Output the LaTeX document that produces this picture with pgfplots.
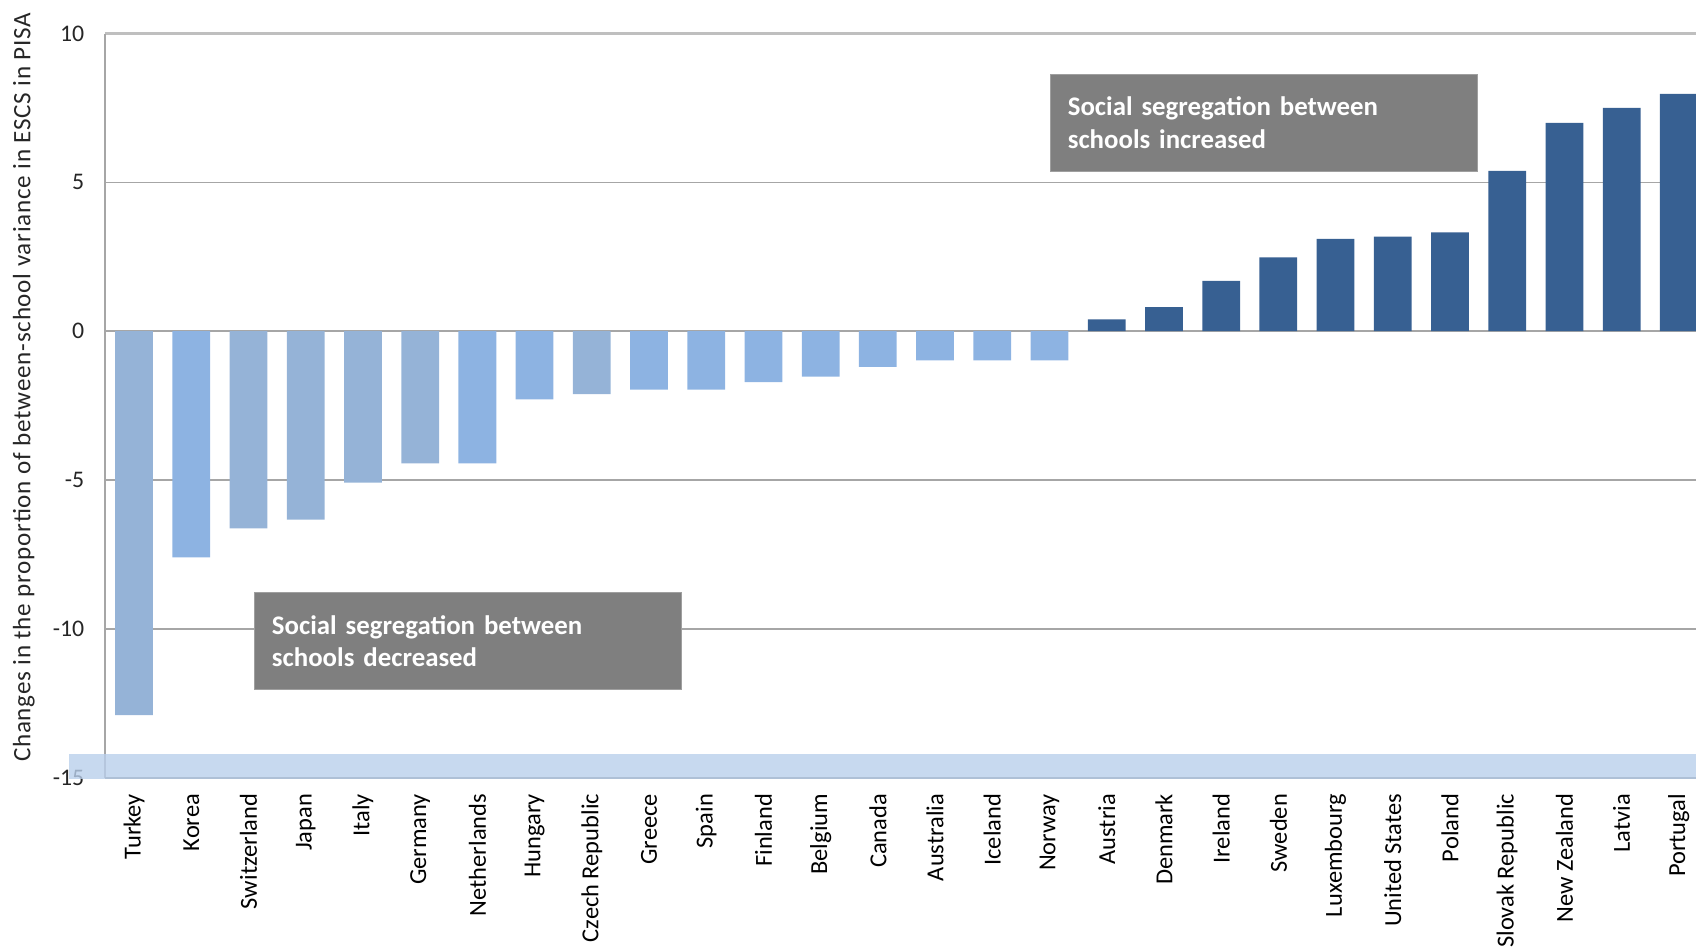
\documentclass[border=0pt]{standalone}
\usepackage{pgfplots}
\pgfplotsset{compat=1.18}
\usepackage{fontspec}
\setmainfont{Carlito}

\definecolor{greyblue}{HTML}{95B3D7}
\definecolor{lightblue}{HTML}{8DB3E2}
\definecolor{darkblue}{HTML}{376092}
\definecolor{boxgray}{HTML}{7F7F7F}
\definecolor{gridgray}{HTML}{A6A6A6}
\definecolor{topgray}{HTML}{BFBFBF}
\definecolor{band}{HTML}{B9CFEB}

\begin{document}
\begin{tikzpicture}
\useasboundingbox (-48.5pt,-79.5pt) rectangle (735.5pt,359.5pt);
\begin{axis}[
    scale only axis,
    width=735.5pt, height=344pt,
    xmin=-0.51, xmax=27.3,
    ymin=-15, ymax=10,
    ytick={-15,-10,-5,0,5,10},
    xtick={0,...,27},
    xticklabels={Turkey,Korea,Switzerland,Japan,Italy,Germany,Netherlands,Hungary,Czech Republic,Greece,Spain,Finland,Belgium,Canada,Australia,Iceland,Norway,Austria,Denmark,Ireland,Sweden,Luxembourg,United States,Poland,Slovak Republic,New Zealand,Latvia,Portugal},
    xticklabel style={rotate=90, anchor=east, xshift=-4pt, font=\fontsize{11.3}{13}\selectfont},
    yticklabel style={xshift=-6pt, font=\fontsize{11}{13}\selectfont, text=black!85},
    /pgf/number format/assume math mode=true,
    major tick length=0pt,
    axis line style={draw=none},
    ymajorgrids,
    grid style={gridgray, line width=0.7pt},
    clip=false,
]
\addplot[ybar, bar width=0.66, bar shift=0pt, fill=greyblue, draw=none] coordinates {
    (0,-12.9) (2,-6.62) (3,-6.33) (4,-5.09) (5,-4.44) (8,-2.11)
};
\addplot[ybar, bar width=0.66, bar shift=0pt, fill=lightblue, draw=none] coordinates {
    (1,-7.6) (6,-4.44) (7,-2.29) (9,-1.96) (10,-1.96) (11,-1.71) (12,-1.53)
    (13,-1.2) (14,-0.98) (15,-0.98) (16,-0.98)
};
\addplot[ybar, bar width=0.66, bar shift=0pt, fill=darkblue, draw=none] coordinates {
    (17,0.40) (18,0.81) (19,1.69) (20,2.48) (21,3.10) (22,3.18) (23,3.32)
    (24,5.39) (25,7.0) (26,7.5) (27,7.97)
};
% frame
\draw[topgray, line width=1.5pt] (rel axis cs:0,1) -- (rel axis cs:1,1);
\draw[gridgray, line width=1pt] (rel axis cs:0,0) -- (rel axis cs:0,1);
\draw[gridgray!80!black, line width=1pt] (rel axis cs:0,0) -- (rel axis cs:1,0);
\fill[band, fill opacity=0.8] (axis cs:-1.13,-15.03) rectangle (axis cs:27.4,-14.2);
% annotations
\node[fill=boxgray, draw=gray!75, anchor=north west, minimum width=197.5pt, minimum height=45pt,
      text width=181.5pt, inner xsep=8pt, align=left, text=white,
      font=\fontsize{12.4}{15}\selectfont\bfseries]
      at (axis cs:16.01,8.65) {Social segregation between\\schools increased};
\node[fill=boxgray, draw=gray!75, anchor=north west, minimum width=197.5pt, minimum height=45pt,
      text width=181.5pt, inner xsep=8pt, align=left, text=white,
      font=\fontsize{12.4}{15}\selectfont\bfseries]
      at (axis cs:2.10,-8.76) {Social segregation between\\schools decreased};
% y label
\node[xshift=-37.5pt, rotate=90, text=black!85,
      font=\fontsize{11.6}{13}\selectfont\addfontfeature{LetterSpace=3}]
      at (rel axis cs:0,0.5247) {Changes in the proportion of between-school variance in ESCS in PISA};
\end{axis}
\end{tikzpicture}
\end{document}
